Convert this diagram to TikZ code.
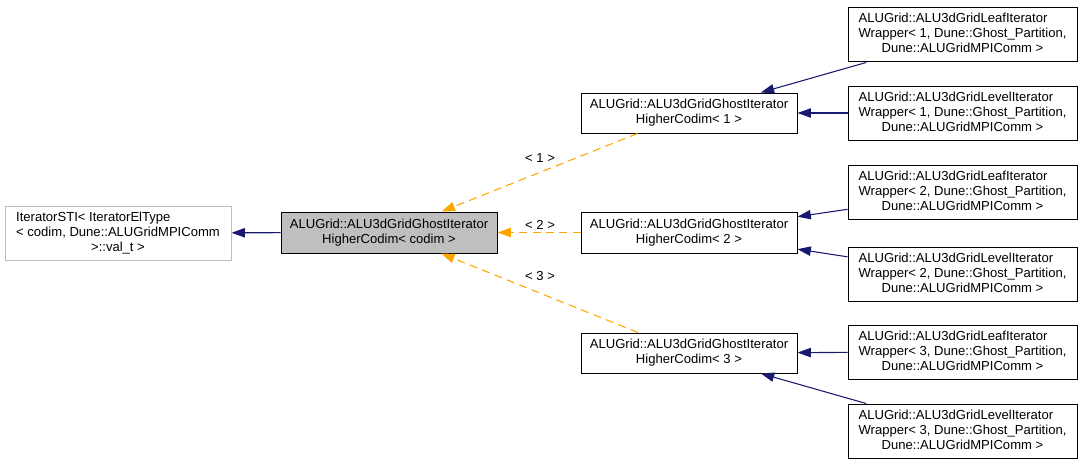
\documentclass[tikz,border=0pt]{standalone}
\usepackage{fontspec}
\setmainfont{Liberation Sans}
\usetikzlibrary{arrows.meta}
\definecolor{edgeblue}{HTML}{191970}
\definecolor{edgeorange}{HTML}{FFA500}
\definecolor{greyfill}{HTML}{BFBFBF}
\newcommand{\pxu}{0.75pt}
\newcommand{\boxtext}[2]{\begin{tabular}{@{}l@{}}#1\\\multicolumn{1}{@{}c@{}}{#2}\end{tabular}}
\begin{document}
\begin{tikzpicture}[x=0.75pt,y=-0.75pt,
  every node/.style={font=\fontsize{9.8pt}{11.25pt}\selectfont},
  cls/.style={draw=black, line width=0.75pt, fill=white, inner sep=0pt, minimum width=#1*\pxu},
  cls/.default=216,
  inh/.style={draw=edgeblue, line width=0.8pt, -{Triangle[length=10pt,width=7pt]}},
  tmpl/.style={draw=edgeorange, line width=0.8pt, dash pattern=on 6pt off 4pt, -{Triangle[length=10pt,width=7pt]}},
  lab/.style={inner sep=0pt}]
\useasboundingbox (0,0) rectangle (1084,467);
% left
\node[cls=226, draw=greyfill, minimum height=54*\pxu] (base) at (118,233)
  {\boxtext{IteratorSTI< IteratorElType\\< codim, Dune::ALUGridMPIComm}{>::val\_t >}};
\node[cls, fill=greyfill, minimum height=41*\pxu] (main) at (389,232.5)
  {\boxtext{ALUGrid::ALU3dGridGhostIterator}{HigherCodim< codim >}};
% middle
\node[cls, minimum height=40*\pxu] (g1) at (689,113)
  {\boxtext{ALUGrid::ALU3dGridGhostIterator}{HigherCodim< 1 >}};
\node[cls, minimum height=41*\pxu] (g2) at (689,232.5)
  {\boxtext{ALUGrid::ALU3dGridGhostIterator}{HigherCodim< 2 >}};
\node[cls, minimum height=40*\pxu] (g3) at (689,353)
  {\boxtext{ALUGrid::ALU3dGridGhostIterator}{HigherCodim< 3 >}};
% right
\node[cls=229, minimum height=54*\pxu] (leaf1) at (962.5,35)
  {\boxtext{ALUGrid::ALU3dGridLeafIterator\\Wrapper< 1, Dune::Ghost\_Partition,}{Dune::ALUGridMPIComm >}};
\node[cls=229, minimum height=54*\pxu] (level1) at (962.5,113)
  {\boxtext{ALUGrid::ALU3dGridLevelIterator\\Wrapper< 1, Dune::Ghost\_Partition,}{Dune::ALUGridMPIComm >}};
\node[cls=229, minimum height=54*\pxu] (leaf2) at (962.5,192.5)
  {\boxtext{ALUGrid::ALU3dGridLeafIterator\\Wrapper< 2, Dune::Ghost\_Partition,}{Dune::ALUGridMPIComm >}};
\node[cls=229, minimum height=54*\pxu] (level2) at (962.5,274.5)
  {\boxtext{ALUGrid::ALU3dGridLevelIterator\\Wrapper< 2, Dune::Ghost\_Partition,}{Dune::ALUGridMPIComm >}};
\node[cls=229, minimum height=54*\pxu] (leaf3) at (962.5,352)
  {\boxtext{ALUGrid::ALU3dGridLeafIterator\\Wrapper< 3, Dune::Ghost\_Partition,}{Dune::ALUGridMPIComm >}};
\node[cls=229, minimum height=54*\pxu] (level3) at (962.5,431)
  {\boxtext{ALUGrid::ALU3dGridLevelIterator\\Wrapper< 3, Dune::Ghost\_Partition,}{Dune::ALUGridMPIComm >}};
% edges
\draw[inh] (main) -- (base);
\draw[tmpl] (g1) -- (main);
\draw[tmpl] (g2) -- (main);
\draw[tmpl] (g3) -- (main);
\draw[inh] (leaf1) -- (g1);
\draw[inh] (level1) -- (g1);
\draw[inh] (leaf2) -- (g2);
\draw[inh] (level2) -- (g2);
\draw[inh] (leaf3) -- (g3);
\draw[inh] (level3) -- (g3);
% labels
\node[lab] (t1) at (540,158) {< 1 >};
\node[lab] (t2) at (540,225) {< 2 >};
\node[lab] (t3) at (540,276) {< 3 >};
\end{tikzpicture}
\end{document}
